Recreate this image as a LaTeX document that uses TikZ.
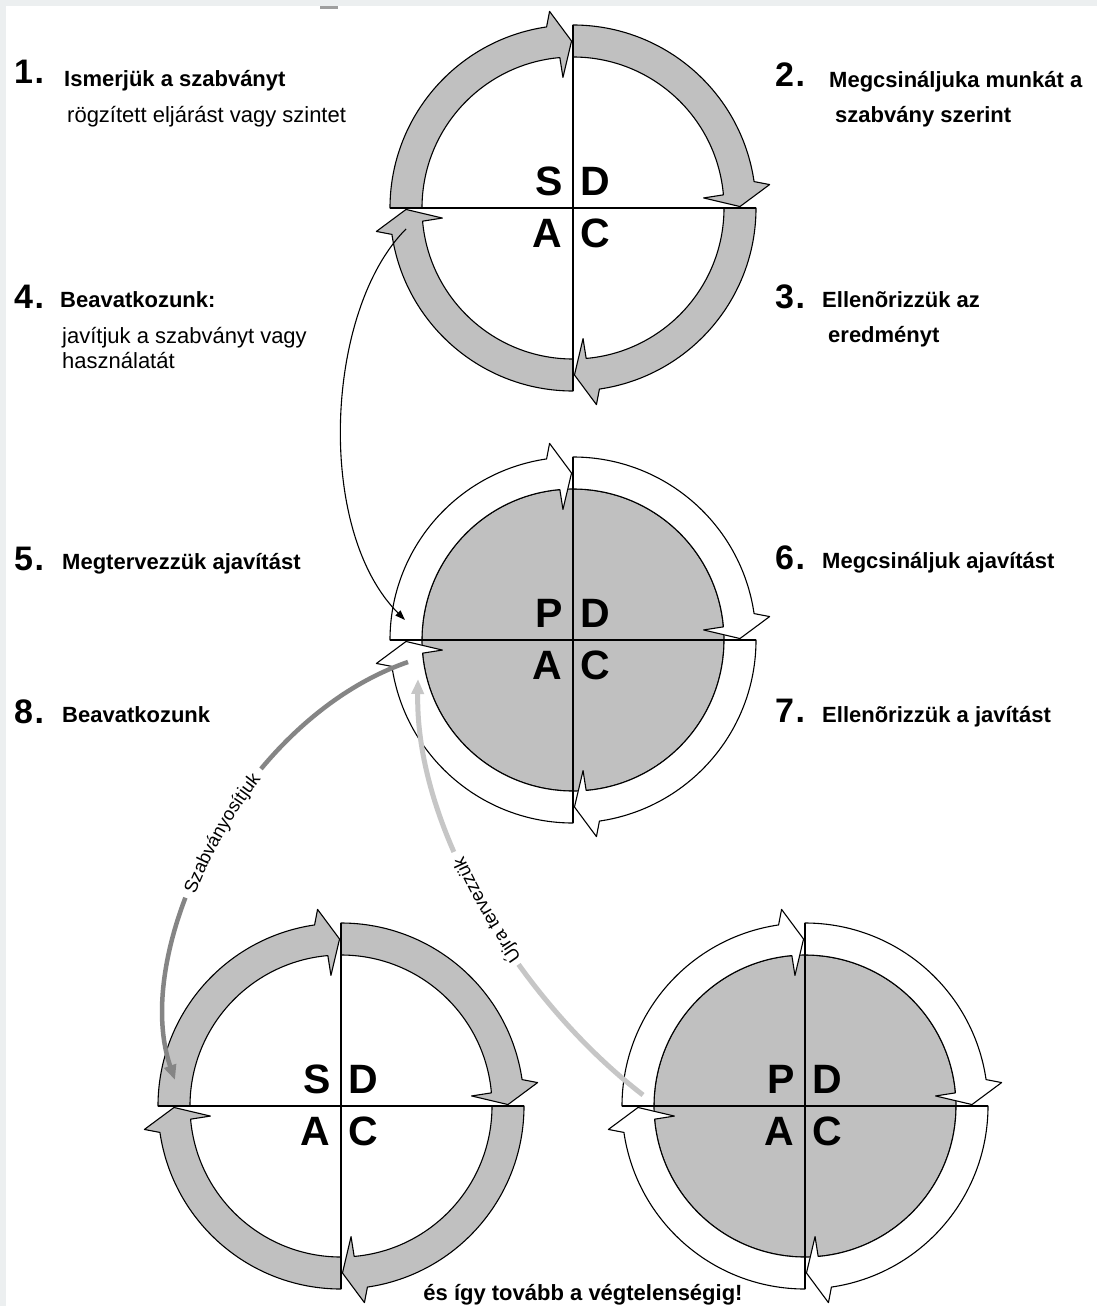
\documentclass[tikz,border=0pt]{standalone}
\usepackage{fontspec}
\setmainfont{Liberation Sans}
\usetikzlibrary{arrows.meta,decorations.text}

\definecolor{ringgray}{HTML}{C0C0C0}
\definecolor{framegray}{HTML}{ECEFF0}
\definecolor{linkdark}{HTML}{858585}
\definecolor{linklight}{HTML}{C6C6C6}

\newcommand\pathfont{\fontsize{18.5}{20}\selectfont}

\tikzset{
  outline/.style={draw=black, line width=1.1pt, line join=round},
  axisline/.style={draw=black, line width=1.4pt},
  letter/.style={inner sep=0pt, font=\fontsize{41}{41}\selectfont\bfseries},
  numlabel/.style={anchor=base west, inner sep=0pt, font=\fontsize{34}{36}\selectfont\bfseries},
  boldlabel/.style={anchor=base west, inner sep=0pt, font=\fontsize{22}{26}\selectfont\bfseries},
  plainlabel/.style={anchor=base west, inner sep=0pt, font=\fontsize{22}{26}\selectfont},
  thinlink/.style={draw=black, line width=1.1pt, -{Triangle[length=10pt,width=7pt]}},
  darklink/.style={draw=linkdark, line width=4.5pt, -{Triangle[length=15pt,width=12pt]}},
  lightlink/.style={draw=linklight, line width=5pt, -{Triangle[length=15pt,width=12pt]}},
}

% one quarter of a cycle: a block arc running clockwise from the
% start angle #3 (maths convention) to the next axis, ending in a head
\newcommand\ringarrow[4]{%
  \pgfmathsetmacro\aS{#3}%
  \pgfmathsetmacro\nS{-(#3)}%
  \pgfmathsetmacro\aO{#3-81.7}%
  \pgfmathsetmacro\nO{-(#3-81.7)}%
  \pgfmathsetmacro\aB{#3-83.2}%
  \pgfmathsetmacro\aT{#3-89.5}%
  \pgfmathsetmacro\aC{#3-85.6}%
  \pgfmathsetmacro\aI{#3-85}%
  \pgfmathsetmacro\nI{-(#3-85)}%
  \filldraw[outline, fill=#4]
    ({#1+183*cos(\aS)},{#2-183*sin(\aS)})
    arc[start angle=\nS, end angle=\nO, radius=183]
    -- ({#1+198*cos(\aB)},{#2-198*sin(\aB)})
    -- ({#1+167*cos(\aT)},{#2-167*sin(\aT)})
    -- ({#1+131*cos(\aC)},{#2-131*sin(\aC)})
    -- ({#1+151*cos(\aI)},{#2-151*sin(\aI)})
    arc[start angle=\nI, end angle=\nS, radius=151]
    -- cycle;
}

% a whole cycle: four arrows, the cross and the four letters
\newcommand\wheel[5]{% centre x, centre y, arrow fill, first letter, name
  \ringarrow{#1}{#2}{180}{#3}
  \ringarrow{#1}{#2}{90}{#3}
  \ringarrow{#1}{#2}{360}{#3}
  \ringarrow{#1}{#2}{270}{#3}
  \draw[axisline] ({#1-183},#2) -- ({#1+183},#2);
  \draw[axisline] (#1,{#2-183}) -- (#1,{#2+183});
  \node[letter, anchor=base east] (#5-first) at ({#1-10},{#2-13}) {#4};
  \node[letter, anchor=base west] (#5-do) at ({#1+7},{#2-13}) {D};
  \node[letter, anchor=base east] (#5-act) at ({#1-11},{#2+39}) {A};
  \node[letter, anchor=base west] (#5-check) at ({#1+7},{#2+39}) {C};
}

\begin{document}
\begin{tikzpicture}[x=1pt,y=-1pt]
  \useasboundingbox (0,0) rectangle (1097,1306);
  \fill[white] (0,0) rectangle (1097,1306);
  \fill[framegray] (0,0) rectangle (1097,6.5);
  \fill[framegray] (0,0) rectangle (6,1306);
  \fill[gray!75] (320,6.5) rectangle (338,9);

  % the four cycles
  \wheel{573}{208}{ringgray}{S}{sdcaA}
  \filldraw[outline, fill=ringgray] (573,640) circle[radius=151];
  \wheel{573}{640}{white}{P}{pdcaA}
  \wheel{341}{1106}{ringgray}{S}{sdcaB}
  \filldraw[outline, fill=ringgray] (805,1106) circle[radius=151];
  \wheel{805}{1106}{white}{P}{pdcaB}

  % step labels
  \node[numlabel] (n1) at (14,84) {1\kern1.5pt.};
  \node[boldlabel] (t1) at (64,86) {Ismerjük a szabványt};
  \node[plainlabel] (t1b) at (67,122) {rögzített eljárást vagy szintet};
  \node[numlabel] (n2) at (775,86) {2\kern1.5pt.};
  \node[boldlabel] (t2) at (829,87) {Megcsináljuka munkát a};
  \node[boldlabel] (t2b) at (835,122) {szabvány szerint};
  \node[numlabel] (n4) at (14,308) {4\kern1.5pt.};
  \node[boldlabel] (t4) at (60,307) {Beavatkozunk:};
  \node[plainlabel] (t4b) at (62,343) {javítjuk a szabványt vagy};
  \node[plainlabel] (t4c) at (62,368) {használatát};
  \node[numlabel] (n3) at (775,308) {3\kern1.5pt.};
  \node[boldlabel] (t3) at (822,307) {Ellenõrizzük az};
  \node[boldlabel] (t3b) at (828,342) {eredményt};
  \node[numlabel] (n5) at (14,570) {5\kern1.5pt.};
  \node[boldlabel] (t5) at (62,569) {Megtervezzük ajavítást};
  \node[numlabel] (n6) at (775,569) {6\kern1.5pt.};
  \node[boldlabel] (t6) at (822,568) {Megcsináljuk ajavítást};
  \node[numlabel] (n8) at (14,723) {8\kern1.5pt.};
  \node[boldlabel] (t8) at (62,722) {Beavatkozunk};
  \node[numlabel] (n7) at (775,722) {7\kern1.5pt.};
  \node[boldlabel] (t7) at (822,722) {Ellenõrizzük a javítást};
  \node[boldlabel, anchor=base] (endnote) at (583,1300) {és így tovább a végtelenségig!};

  % connectors between the cycles
  \coordinate (upper-out) at (406,229);
  \coordinate (middle-in) at (405,620);
  \draw[thinlink] (upper-out) .. controls (325,310) and (315,530) .. (middle-in);

  \coordinate (std-from) at (408,662);
  \coordinate (std-to) at (175,1080);
  \draw[darklink, dash pattern=on 184pt off 150pt on 600pt]
    (std-from) .. controls (240,720) and (130,950) .. (std-to);
  \path[decorate, decoration={text along path, text align=center, raise=-6pt,
      text={|\pathfont|Szabványosítjuk}}]
    (std-to) .. controls (130,950) and (240,720) .. (std-from);

  \coordinate (redo-from) at (643,1095);
  \coordinate (redo-to) at (418,679);
  \draw[lightlink, dash pattern=on 181pt off 130pt on 600pt]
    (redo-from) .. controls (520,1000) and (415,830) .. (redo-to);
  \path[decorate, decoration={text along path, text align=center, raise=-6pt,
      text={|\pathfont|Újra tervezzük}}]
    (redo-from) .. controls (520,1000) and (415,830) .. (redo-to);
\end{tikzpicture}
\end{document}
